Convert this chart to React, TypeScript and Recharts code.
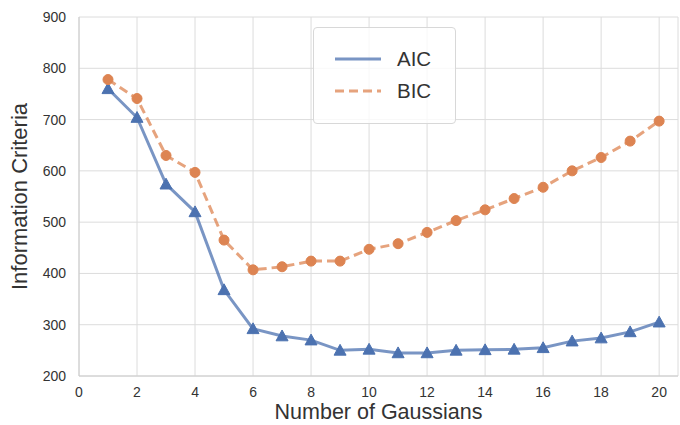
import { LineChart, Line, XAxis, YAxis, CartesianGrid, Label } from "recharts";

const gaussians = [1, 2, 3, 4, 5, 6, 7, 8, 9, 10, 11, 12, 13, 14, 15, 16, 17, 18, 19, 20];
const aic = [760, 704, 574, 520, 368, 292, 278, 270, 250, 252, 245, 245, 250, 251, 252, 255, 268, 274, 286, 305];
const bic = [778, 741, 630, 597, 465, 407, 413, 424, 424, 447, 458, 480, 503, 524, 546, 568, 600, 626, 658, 697];
const xTicks = [0, 2, 4, 6, 8, 10, 12, 14, 16, 18, 20];
const yTicks = [200, 300, 400, 500, 600, 700, 800, 900];

const data = gaussians.map((n, i) => ({ n, aic: aic[i], bic: bic[i] }));

const BLUE = "#4c72b0";
const ORANGE = "#dd8452";
const FONT = "'Liberation Sans', Arial, sans-serif";

function Triangle(props: any) {
  const { cx, cy } = props;
  if (cx == null || cy == null) return null;
  const s = 6;
  return (
    <path
      d={`M${cx},${cy - s} L${cx + s},${cy + s * 0.8} L${cx - s},${cy + s * 0.8} Z`}
      fill={BLUE}
      stroke={BLUE}
      strokeWidth={1}
    />
  );
}

// legend box drawn over the plot, like matplotlib's frame
function LegendBox() {
  return (
    <div
      style={{
        position: "absolute",
        left: 313,
        top: 27,
        width: 141,
        height: 95,
        border: "1px solid #d8d8d8",
        borderRadius: 4,
        background: "rgba(255,255,255,0.8)",
      }}
    >
      <svg width={141} height={95} style={{ position: "absolute", left: 0, top: 0 }}>
        <line x1={21} y1={31} x2={67} y2={31} stroke={BLUE} strokeOpacity={0.75} strokeWidth={3.2} />
        <line x1={21} y1={63} x2={67} y2={63} stroke={ORANGE} strokeOpacity={0.75} strokeWidth={3.2} strokeDasharray="9 5" />
        <text x={83} y={38} fontSize={20.5} fill="#333" fontFamily={FONT}>AIC</text>
        <text x={83} y={70} fontSize={20.5} fill="#333" fontFamily={FONT}>BIC</text>
      </svg>
    </div>
  );
}

export default function App() {
  return (
    <div style={{ position: "absolute", left: 0, top: 0, width: 680, height: 425, background: "#fff" }}>
      <LineChart width={680} height={425} data={data} margin={{ top: 17, right: 2, bottom: 0, left: 0 }}>
        <CartesianGrid stroke="#dcdcdc" strokeWidth={1} />
        <XAxis
          dataKey="n"
          type="number"
          domain={[0, 20.65]}
          ticks={xTicks}
          allowDataOverflow
          stroke="#cccccc"
          tickLine={false}
          tick={{ fill: "#333", fontSize: 14, fontFamily: FONT }}
          tickMargin={5}
          height={49}
        >
          <Label value="Number of Gaussians" position="insideBottom" offset={6} style={{ fill: "#333", fontSize: 21.5, fontFamily: FONT }} />
        </XAxis>
        <YAxis
          type="number"
          domain={[200, 900]}
          ticks={yTicks}
          stroke="#cccccc"
          tickLine={false}
          tick={{ fill: "#333", fontSize: 14, fontFamily: FONT }}
          tickMargin={7}
          width={79}
        >
          <Label value="Information Criteria" angle={-90} position="insideLeft" offset={19} style={{ fill: "#333", fontSize: 22, fontFamily: FONT, textAnchor: "middle" }} />
        </YAxis>
        <Line
          dataKey="aic"
          name="AIC"
          type="linear"
          stroke={BLUE}
          strokeOpacity={0.75}
          strokeWidth={3}
          dot={<Triangle />}
          activeDot={false}
          isAnimationActive={false}
        />
        <Line
          dataKey="bic"
          name="BIC"
          type="linear"
          stroke={ORANGE}
          strokeOpacity={0.75}
          strokeWidth={3}
          strokeDasharray="9 5"
          dot={{ r: 5, fill: ORANGE, stroke: ORANGE, strokeWidth: 1, strokeOpacity: 1, strokeDasharray: "" }}
          activeDot={false}
          isAnimationActive={false}
        />
      </LineChart>
      <LegendBox />
    </div>
  );
}
